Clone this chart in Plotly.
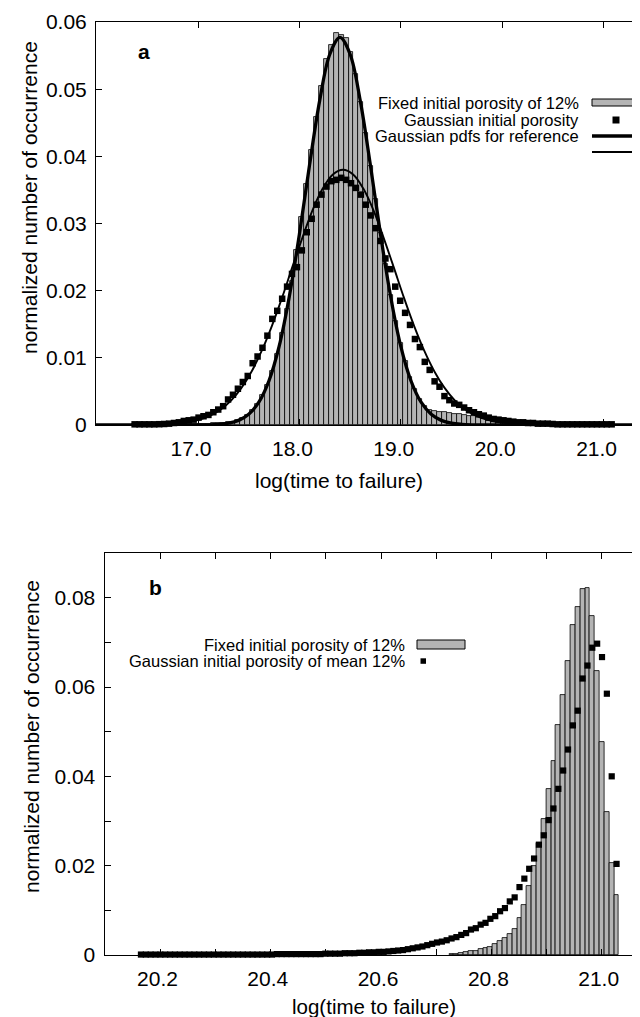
import plotly.graph_objects as go

W, H = 640, 1017
FONT = "Liberation Sans, Arial, Helvetica, sans-serif"
GRAY = "#b4b4b4"

# ---------------- Panel a data ----------------
a_bin_start = 16.375
a_bin_width = 0.0485
a_fixed = [0.0001, 0.0001, 0.0001, 0.0001, 0.0001, 0.0001, 0.0001, 0.0001, 0.0001, 0.0001,
           0.0001, 0.00012, 0.00015, 0.00015, 0.0002, 0.0002, 0.00025, 0.0003, 0.0003, 0.0004,
           0.0005, 0.0007, 0.0010, 0.0015, 0.0022, 0.0031, 0.0044, 0.0060, 0.0080, 0.0106,
           0.0137, 0.0173, 0.0214, 0.0260, 0.0309, 0.0359, 0.0409, 0.0458, 0.0505, 0.0545,
           0.0566, 0.0583, 0.0581, 0.0576, 0.0556, 0.0522, 0.0481, 0.0435, 0.0386, 0.0336,
           0.0286, 0.0239, 0.0194, 0.0155, 0.0122, 0.0095, 0.0072, 0.0053, 0.0039, 0.0029,
           0.0023, 0.0021, 0.0020, 0.0019, 0.0018, 0.0017, 0.0016, 0.0015, 0.0014, 0.0013,
           0.0012, 0.0011, 0.0010, 0.0009, 0.0008, 0.0007, 0.0006, 0.0005, 0.0004, 0.0004,
           0.0003, 0.0003, 0.0003, 0.0002, 0.0002, 0.0002, 0.0002, 0.0001, 0.0001, 0.0001,
           0.0001, 0.0001, 0.0001, 0.0001, 0.0001, 0.0001, 0.0001, 0.0001]
a_gauss_pts = [0.0001, 0.0001, 0.0001, 0.0001, 0.0001, 0.00012, 0.00015, 0.0002, 0.0003, 0.0004,
               0.0006, 0.0007, 0.0008, 0.0011, 0.0013, 0.0015, 0.0019, 0.0023,
               0.0028, 0.0038, 0.0045, 0.0054, 0.0064, 0.0073, 0.0092, 0.0102, 0.0115, 0.0133,
               0.0158, 0.0170, 0.0188, 0.0206, 0.0225, 0.0235, 0.0260, 0.0287, 0.0307, 0.0328,
               0.0343, 0.0355, 0.0363, 0.0365, 0.0368, 0.0365, 0.0360, 0.0353, 0.0343, 0.0328,
               0.0312, 0.0293, 0.0274, 0.0248, 0.0232, 0.0206, 0.0185, 0.0167, 0.0149, 0.0128,
               0.0116, 0.0094, 0.0082, 0.0065, 0.0057, 0.0043, 0.0037, 0.0032,
               0.0030, 0.0026, 0.0022, 0.0019, 0.0016, 0.0014, 0.0011, 0.0009, 0.0008, 0.0007,
               0.0006, 0.0005, 0.0004, 0.0004, 0.0003, 0.0003, 0.0002, 0.0002, 0.0002, 0.00015,
               0.0001, 0.0001, 0.0001, 0.0001, 0.0001, 0.0001, 0.0001, 0.0001, 0.0001, 0.0001,
               0.0001, 0.0001]
# reference gaussian pdfs, sampled every 0.1
a_ref_narrow_start = 15.9
a_ref_narrow = [0, 0, 0, 0, 0, 0, 0, 0, 0, 0,
                0, 0.00001, 0.00003, 0.0001, 0.00027, 0.00069, 0.0016, 0.00339, 0.00659, 0.0117,
                0.0191, 0.0284, 0.0387, 0.0483, 0.0552, 0.0577, 0.0552, 0.0483, 0.0387, 0.0284,
                0.0191, 0.0117, 0.00659, 0.00339, 0.0016, 0.00069, 0.00027, 0.0001, 0.00003, 0.00001,
                0, 0, 0, 0, 0, 0, 0, 0, 0, 0,
                0, 0, 0, 0, 0, 0, 0]
a_ref_broad_start = 15.93
a_ref_broad = [0, 0, 0, 0, 0, 0.00002, 0.00004, 0.00008, 0.00015, 0.00028,
               0.0005, 0.00088, 0.00148, 0.00239, 0.00371, 0.00556, 0.00801, 0.0111, 0.0148, 0.0190,
               0.0235, 0.0279, 0.0320, 0.0352, 0.0373, 0.0380, 0.0373, 0.0352, 0.0320, 0.0279,
               0.0235, 0.0190, 0.0148, 0.0111, 0.00801, 0.00556, 0.00371, 0.00239, 0.00148, 0.00088,
               0.0005, 0.00028, 0.00015, 0.00008, 0.00004, 0.00002, 0, 0, 0, 0,
               0, 0, 0, 0, 0, 0, 0]

# ---------------- Panel b data ----------------
b_pts_start = 20.1646
b_bin_width = 0.0088
b_fixed_start = 20.7278
b_fixed = [0.0002, 0.0003, 0.00045, 0.0007, 0.0008, 0.0010, 0.0013, 0.0016, 0.0019, 0.0025,
           0.0032, 0.0038, 0.0048, 0.0059, 0.0083, 0.0113, 0.0155, 0.0200, 0.0250, 0.0305,
           0.0372, 0.0435, 0.0514, 0.0582, 0.0659, 0.0738, 0.0779, 0.0820, 0.0822, 0.0760,
           0.0635, 0.0477, 0.0320, 0.0206, 0.0134]
b_gauss_pts = [0.0001, 0.0001, 0.0001, 0.0001, 0.0001, 0.0001, 0.0001, 0.0001, 0.0001, 0.0001,
               0.0001, 0.0001, 0.0001, 0.0001, 0.0001, 0.0001, 0.0001, 0.0001, 0.0001, 0.0001,
               0.0001, 0.0001, 0.0001, 0.0001, 0.0001, 0.0001, 0.0001, 0.0001,
               0.0002, 0.0002, 0.0002, 0.0002, 0.0002, 0.0002, 0.0002, 0.0002, 0.0002, 0.0002,
               0.0003, 0.0003, 0.0003, 0.0003, 0.0004, 0.0004, 0.0004, 0.0005, 0.0005, 0.0006,
               0.0006, 0.0007, 0.0007, 0.0008, 0.0009, 0.0010, 0.0011, 0.0013, 0.0015, 0.0017,
               0.0019, 0.0022, 0.0025, 0.0028, 0.0030, 0.0033, 0.0037, 0.0040, 0.0045, 0.0049,
               0.0057, 0.0060, 0.0068, 0.0072, 0.0081, 0.0087, 0.0098, 0.0105, 0.0120, 0.0129,
               0.0152, 0.0171, 0.0193, 0.0216, 0.0247, 0.0268, 0.0302, 0.0328, 0.0372, 0.0413,
               0.0460, 0.0514, 0.0547, 0.0619, 0.0648, 0.0688, 0.0697, 0.0667, 0.0585, 0.0400,
               0.0204]

# ---------------- Ticks ----------------
a_xticks = [17, 18, 19, 20, 21]
a_xlabels = ["17.0", "18.0", "19.0", "20.0", "21.0"]
a_yticks = [0, 0.01, 0.02, 0.03, 0.04, 0.05, 0.06]
a_ylabels = ["0", "0.01", "0.02", "0.03", "0.04", "0.05", "0.06"]
b_xticks = [20.2, 20.3, 20.4, 20.5, 20.6, 20.7, 20.8, 20.9, 21.0]
b_xlabels = ["20.2", "", "20.4", "", "20.6", "", "20.8", "", "21.0"]
b_yticks = [0, 0.01, 0.02, 0.03, 0.04, 0.05, 0.06, 0.07, 0.08]
b_ylabels = ["0", "", "0.02", "", "0.04", "", "0.06", "", "0.08"]

legend_a = ["Fixed initial porosity of 12%", "Gaussian initial porosity", "Gaussian pdfs for reference"]
legend_b = ["Fixed initial porosity of 12%", "Gaussian initial porosity of mean 12%"]


def px(x):
    return x / W


def py(y):
    return 1 - y / H


fig = go.Figure()

# panel a
fig.add_trace(go.Bar(x0=a_bin_start, dx=a_bin_width, y=a_fixed, width=a_bin_width,
                     marker=dict(color=GRAY, line=dict(color="black", width=0.8)),
                     xaxis="x", yaxis="y"))
fig.add_trace(go.Scatter(x0=a_ref_narrow_start, dx=0.1, y=a_ref_narrow, mode="lines",
                         line=dict(color="black", width=3.3, shape="spline"), xaxis="x", yaxis="y"))
fig.add_trace(go.Scatter(x0=a_ref_broad_start, dx=0.1, y=a_ref_broad, mode="lines",
                         line=dict(color="black", width=1.9, shape="spline"), xaxis="x", yaxis="y"))
fig.add_trace(go.Scatter(x0=a_bin_start, dx=a_bin_width, y=a_gauss_pts, mode="markers",
                         marker=dict(symbol="square", size=6.5, color="black"), cliponaxis=False,
                         xaxis="x", yaxis="y"))

# panel b
fig.add_trace(go.Bar(x0=b_fixed_start, dx=b_bin_width, y=b_fixed, width=b_bin_width,
                     marker=dict(color=GRAY, line=dict(color="black", width=0.8)),
                     xaxis="x2", yaxis="y2"))
fig.add_trace(go.Scatter(x0=b_pts_start, dx=b_bin_width, y=b_gauss_pts, mode="markers",
                         marker=dict(symbol="square", size=6.2, color="black"), cliponaxis=False,
                         xaxis="x2", yaxis="y2"))

tickfont = dict(size=21, family=FONT, color="black")
common = dict(showgrid=False, zeroline=False, showline=True, linecolor="black", linewidth=1,
              ticks="inside", ticklen=6, tickwidth=1, tickcolor="black", tickfont=tickfont,
              automargin=False, fixedrange=True)

fig.update_layout(
    width=W, height=H, margin=dict(l=0, r=0, t=0, b=0),
    paper_bgcolor="white", plot_bgcolor="white", showlegend=False,
    barmode="overlay", bargap=0,
    xaxis=dict(domain=[px(88), 1], range=[15.994, 21.438], anchor="y", mirror="ticks",
               tickvals=a_xticks, ticktext=a_xlabels, ticklabelshift=-7, ticklabelstandoff=5, **common),
    yaxis=dict(domain=[py(417), py(14)], range=[0, 0.06], anchor="x",
               tickvals=a_yticks, ticktext=a_ylabels, ticklabelstandoff=4, **common),
    xaxis2=dict(domain=[px(96.5), 1], range=[20.0985, 21.084], anchor="y2", mirror="ticks",
                tickvals=b_xticks, ticktext=b_xlabels, ticklabelshift=-3, ticklabelstandoff=5, **common),
    yaxis2=dict(domain=[py(947), py(545)], range=[0, 0.09], anchor="x2",
                tickvals=b_yticks, ticktext=b_ylabels, ticklabelstandoff=4, **common),
)

ann = []
tfont = dict(size=21, family=FONT, color="black")
ann.append(dict(text="normalized number of occurrence", textangle=-90, x=px(21), y=py(190),
                xref="paper", yref="paper", xanchor="center", yanchor="middle", showarrow=False, font=tfont))
ann.append(dict(text="normalized number of occurrence", textangle=-90, x=px(23), y=py(729),
                xref="paper", yref="paper", xanchor="center", yanchor="middle", showarrow=False, font=tfont))
ann.append(dict(text="log(time to failure)", x=px(331), y=py(473), xref="paper", yref="paper",
                xanchor="center", yanchor="middle", showarrow=False, font=tfont))
ann.append(dict(text="log(time to failure)", x=px(366), y=py(998), xref="paper", yref="paper",
                xanchor="center", yanchor="middle", showarrow=False, font=dict(size=20.5, family=FONT, color="black")))
ann.append(dict(text="<b>a</b>", x=px(136), y=py(44), xref="paper", yref="paper",
                xanchor="center", yanchor="middle", showarrow=False, font=dict(size=21, family=FONT, color="black")))
ann.append(dict(text="<b>b</b>", x=px(147), y=py(579), xref="paper", yref="paper",
                xanchor="center", yanchor="middle", showarrow=False, font=dict(size=21, family=FONT, color="black")))

lfont = dict(size=16.5, family=FONT, color="black")
for txt, yy in zip(legend_a, [95, 112, 128]):
    ann.append(dict(text=txt, x=px(573), y=py(yy), xref="paper", yref="paper", xanchor="right",
                    yanchor="middle", showarrow=False, font=lfont))
for txt, yy in zip(legend_b, [637, 653]):
    ann.append(dict(text=txt, x=px(399), y=py(yy), xref="paper", yref="paper", xanchor="right",
                    yanchor="middle", showarrow=False, font=lfont))

shapes = [
    # legend a samples
    dict(type="rect", xref="paper", yref="paper", x0=px(584), x1=px(631), y0=py(98), y1=py(91),
         fillcolor=GRAY, line=dict(color="black", width=1)),
    dict(type="rect", xref="paper", yref="paper", x0=px(604.5), x1=px(611.5), y0=py(115.5), y1=py(108.5),
         fillcolor="black", line=dict(width=0)),
    dict(type="line", xref="paper", yref="paper", x0=px(584), x1=px(631), y0=py(128), y1=py(128),
         line=dict(color="black", width=3.3)),
    dict(type="line", xref="paper", yref="paper", x0=px(584), x1=px(631), y0=py(144), y1=py(144),
         line=dict(color="black", width=1.9)),
    # legend b samples
    dict(type="rect", xref="paper", yref="paper", x0=px(409), x1=px(457), y0=py(641), y1=py(632),
         fillcolor=GRAY, line=dict(color="black", width=1)),
    dict(type="rect", xref="paper", yref="paper", x0=px(412.5), x1=px(418), y0=py(655.8), y1=py(650.3),
         fillcolor="black", line=dict(width=0)),
]
fig.update_layout(annotations=ann, shapes=shapes)

fig.write_html("out.html")
